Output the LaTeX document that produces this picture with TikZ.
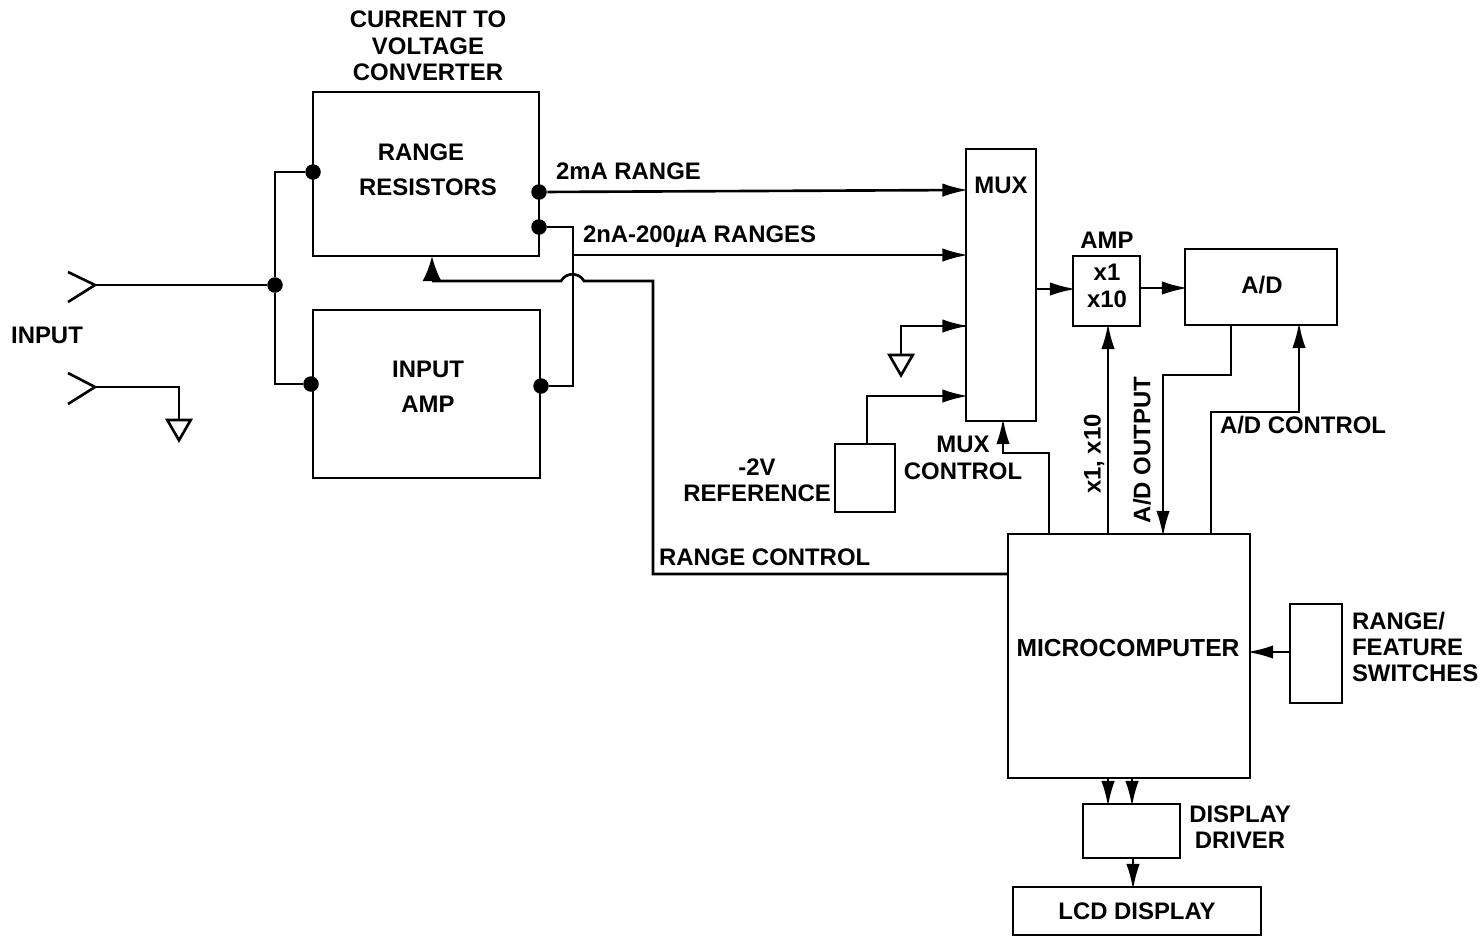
\documentclass[tikz,border=0pt]{standalone}
\usepackage{fontspec}
\setmainfont{Liberation Sans}
\usepackage{tikz}
\usetikzlibrary{arrows.meta, shapes.geometric}

\tikzset{
  block/.style={draw, rectangle, line width=0.75pt, inner sep=0pt, outer sep=0pt, align=center},
  lab/.style={inner sep=0pt, outer sep=0pt, align=center},
  dot/.style={circle, fill, inner sep=0pt, minimum size=0.155cm},
  gnd/.style={draw, line width=0.75pt, regular polygon, regular polygon sides=3, shape border rotate=180, inner sep=0pt, outer sep=0pt, minimum size=0.27cm, anchor=north},
  wire/.style={line width=0.75pt},
  sig/.style={wire, shorten >=-0.8pt, -{Latex[length=2.6mm,width=1.35mm]}},
  bigsig/.style={wire, -{Latex[length=2.5mm,width=1.9mm]}}
}

\begin{document}
\begin{tikzpicture}[x=0.01cm, y=-0.01cm, font=\fontsize{6.8}{7.5}\selectfont\bfseries, line join=miter]
\useasboundingbox (0,0) rectangle (1480,936);

\node[block, minimum width=2.26cm, minimum height=1.64cm] (range) at (426,174) {};
\node[block, minimum width=2.27cm, minimum height=1.68cm] (inamp) at (426.5,394) {};
\node[block, minimum width=0.70cm, minimum height=2.72cm] (mux) at (1001,285) {};
\node[block, minimum width=0.67cm, minimum height=0.70cm] (amp) at (1106.5,291) {};
\node[block, minimum width=1.52cm, minimum height=0.76cm] (ad) at (1261,287) {};
\node[block, minimum width=0.60cm, minimum height=0.68cm] (ref) at (865,478) {};
\node[block, minimum width=2.42cm, minimum height=2.44cm] (micro) at (1129,656) {};
\node[block, minimum width=0.52cm, minimum height=0.99cm] (switches) at (1316,653.5) {};
\node[block, minimum width=0.97cm, minimum height=0.54cm] (driver) at (1131.5,831) {};
\node[block, minimum width=2.48cm, minimum height=0.48cm] (lcd) at (1137,911) {LCD DISPLAY};

\node[lab] (convlab) at (428,46) {CURRENT TO\\VOLTAGE\\CONVERTER};
\node[lab] (rangelab) at (421,152) {RANGE};
\node[lab] (reslab) at (428,187) {RESISTORS};
\node[lab] (inamplab) at (428,387) {INPUT\\[2.4pt]AMP};
\node[lab] (muxlab) at (1001,185) {MUX};
\node[lab] (gainin) at (1107,286) {x1\\x10};
\node[lab] (adlab) at (1262,285) {A/D};
\node[lab, font=\fontsize{7}{7.5}\selectfont\bfseries] (microlab) at (1128,648) {MICROCOMPUTER};
\node[lab] (inputlab) at (47,335) {INPUT};
\node[lab] (amplab) at (1107,240) {AMP};
\node[lab] (reflab) at (757,480) {-2V\\REFERENCE};
\node[lab] (muxctl) at (963,458) {MUX\\CONTROL};
\node[lab, anchor=west] (r2ma) at (556,171) {2mA RANGE};
\node[lab, anchor=west] (rna) at (583,237) {2nA-200{\itshape µ}A RANGES};
\node[lab, anchor=west] (rangectl) at (659,557) {RANGE CONTROL};
\node[lab, anchor=west] (adctl) at (1220,425) {A/D CONTROL};
\node[lab, rotate=90] (gainlab) at (1094,454) {x1, x10};
\node[lab, rotate=90] (adout) at (1142,450) {A/D OUTPUT};
\node[lab, align=left, anchor=west] (swlab) at (1352,647) {RANGE/\\FEATURE\\SWITCHES};
\node[lab] (drvlab) at (1240,827) {DISPLAY\\DRIVER};

\node[dot] (rl) at (313,172) {};
\node[dot] (r1) at (539,192) {};
\node[dot] (r2) at (539,227) {};
\node[dot] (jn) at (275,285) {};
\node[dot] (il) at (311,384) {};
\node[dot] (ir) at (541,386) {};

\coordinate (inA) at (95,285);
\coordinate (inB) at (95,387);
\coordinate (gbend) at (179,387);
\node[gnd] (g1) at (179,420) {};
\draw[wire] (68,272) -- (inA) -- (68,302);
\draw[wire] (68,373) -- (inB) -- (68,404);
\draw[wire] (inA) -- (jn);
\draw[wire] (inB) -- (gbend) -- (g1.north);

\draw[wire] (rl) -| (jn) |- (il);
\coordinate (rbus) at (573,227);
\coordinate (hump1) at (584,281);
\coordinate (hump2) at (561,281);
\coordinate (rtip) at (432,256);
\coordinate (rfoot) at (432,281);
\coordinate (rcorner) at (653,281);
\coordinate (rmicro) at (1008,574);
\draw[wire] (r2) -- (rbus) |- (ir);
\draw[wire] (rmicro) -| (rcorner) -- (hump1) .. controls (579,272) and (566,272) .. (hump2) -- (rfoot);
\draw[bigsig] (rfoot) -- (rtip);

\coordinate (m1) at (965.5,190);
\coordinate (m2) at (965.5,255);
\coordinate (m3) at (965.5,326);
\coordinate (m4) at (965.5,396);
\coordinate (rb2) at (573,255);
\coordinate (gb2) at (901,326);
\node[gnd] (g2) at (901,355) {};
\coordinate (refup) at (867,444);
\draw[sig] (r1) -- (m1);
\draw[sig] (rb2) -- (m2);
\draw[wire] (m3) -- (gb2) -- (g2.north);
\draw[sig] (gb2) -- (m3);
\draw[sig] (refup) |- (m4);

\coordinate (mo) at (1036,289);
\coordinate (ai) at (1073,289);
\coordinate (ao) at (1140,288);
\coordinate (di) at (1185,288);
\draw[sig] (mo) -- (ai);
\draw[sig] (ao) -- (di);

\coordinate (c1) at (1049,534);
\coordinate (c1b) at (1049,453);
\coordinate (c1t) at (1003,421);
\draw[sig] (c1) -- (c1b) -| (c1t);
\coordinate (c2) at (1108,534);
\coordinate (c2t) at (1108,326);
\draw[sig] (c2) -- (c2t);
\coordinate (c3) at (1231,325);
\coordinate (c3b) at (1231,375);
\coordinate (c3t) at (1163,534);
\draw[sig] (c3) -- (c3b) -| (c3t);
\coordinate (c4) at (1211,534);
\coordinate (c4b) at (1211,412);
\coordinate (c4t) at (1299,325);
\draw[sig] (c4) -- (c4b) -| (c4t);

\coordinate (sw) at (1290,652);
\coordinate (mr) at (1250,652);
\draw[sig] (sw) -- (mr);
\coordinate (d1) at (1108,778);
\coordinate (d1b) at (1108,804);
\coordinate (d2) at (1132,778);
\coordinate (d2b) at (1132,804);
\coordinate (d3) at (1133,858);
\coordinate (d3b) at (1133,887);
\draw[sig] (d1) -- (d1b);
\draw[sig] (d2) -- (d2b);
\draw[sig] (d3) -- (d3b);
\end{tikzpicture}
\end{document}
